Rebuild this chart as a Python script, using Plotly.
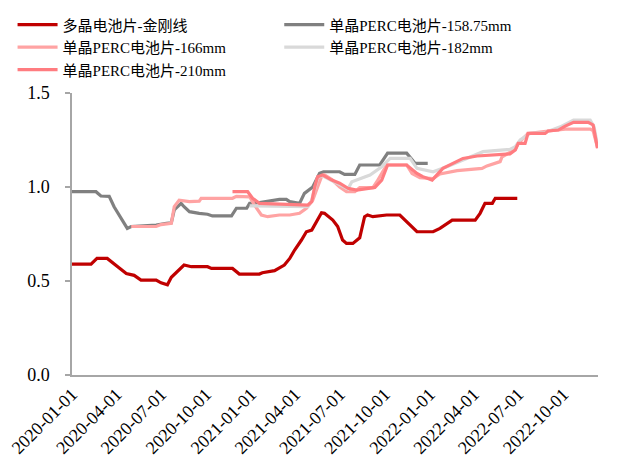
import plotly.graph_objects as go
import pandas as pd

# 多晶电池片-金刚线
poly_dates = ["2020-01-01","2020-02-09","2020-02-21","2020-03-13","2020-04-06","2020-04-21","2020-05-07",
              "2020-05-21","2020-06-21","2020-07-01","2020-07-14","2020-07-22","2020-08-17","2020-09-01",
              "2020-10-04","2020-10-12","2020-11-24","2020-12-08","2021-01-18","2021-01-24","2021-02-18",
              "2021-03-10","2021-03-21","2021-03-31","2021-04-14","2021-04-24","2021-05-05","2021-05-25",
              "2021-05-31","2021-06-17","2021-06-27","2021-07-07","2021-07-15","2021-07-28","2021-08-11",
              "2021-08-21","2021-08-27","2021-09-07","2021-10-05","2021-11-01","2021-12-06","2022-01-08",
              "2022-01-22","2022-02-16","2022-04-04","2022-04-14","2022-04-24","2022-05-09","2022-05-15",
              "2022-06-29"]
poly_vals = [0.59,0.59,0.62,0.62,0.57,0.54,0.53,
             0.505,0.505,0.49,0.48,0.52,0.585,0.576,
             0.576,0.567,0.567,0.537,0.537,0.544,0.555,
             0.585,0.62,0.665,0.718,0.762,0.771,0.863,
             0.86,0.824,0.79,0.718,0.70,0.70,0.73,
             0.842,0.851,0.842,0.851,0.851,0.762,0.762,
             0.78,0.824,0.824,0.86,0.913,0.913,0.94,
             0.94]

# 单晶PERC电池片-158.75mm
m158_dates = ["2020-01-01","2020-02-19","2020-02-29","2020-03-17","2020-03-27","2020-04-06","2020-04-17",
              "2020-04-23","2020-05-01","2020-06-21","2020-07-12","2020-07-22","2020-07-28","2020-08-11",
              "2020-08-17","2020-08-28","2020-09-17","2020-10-04","2020-10-14","2020-11-22","2020-12-02",
              "2020-12-23","2020-12-29","2021-01-12","2021-02-28","2021-03-14","2021-03-21","2021-04-10",
              "2021-04-20","2021-05-07","2021-05-21","2021-05-29","2021-07-01","2021-07-11","2021-08-01",
              "2021-08-11","2021-09-21","2021-10-07","2021-11-15","2021-12-02","2021-12-28"]
m158_vals = [0.975,0.975,0.952,0.95,0.895,0.851,0.807,
             0.78,0.79,0.798,0.807,0.81,0.878,0.913,
             0.895,0.869,0.86,0.855,0.846,0.846,0.887,
             0.887,0.913,0.915,0.934,0.934,0.922,0.913,
             0.966,1.0,1.073,1.081,1.081,1.067,1.067,
             1.117,1.117,1.18,1.18,1.126,1.126]

# 单晶PERC电池片-166mm
m166_dates = ["2020-05-01","2020-06-21","2020-07-01","2020-07-22","2020-07-28","2020-08-07","2020-08-28",
              "2020-09-17","2020-09-21","2020-11-24","2020-12-02","2020-12-29","2021-01-08","2021-01-22",
              "2021-02-04","2021-02-28","2021-03-21","2021-04-10","2021-04-24","2021-05-07","2021-05-17",
              "2021-05-25","2021-05-31","2021-06-15","2021-07-01","2021-07-15","2021-08-01","2021-08-11",
              "2021-09-07","2021-09-15","2021-10-05","2021-11-15","2021-11-26","2021-12-12","2022-01-08",
              "2022-01-22","2022-02-26","2022-04-18","2022-04-28","2022-05-25","2022-05-29","2022-06-25",
              "2022-07-01","2022-07-21","2022-08-31","2022-09-21","2022-10-05","2022-11-25","2022-12-01",
              "2022-12-10"]
m166_vals = [0.79,0.79,0.80,0.807,0.895,0.93,0.922,
             0.925,0.94,0.94,0.95,0.948,0.904,0.851,
             0.842,0.851,0.851,0.86,0.887,0.93,1.0,
             1.055,1.064,1.04,1.0,0.975,0.975,0.997,
             0.997,1.028,1.117,1.117,1.072,1.05,1.045,
             1.069,1.087,1.099,1.112,1.135,1.161,1.20,
             1.232,1.285,1.298,1.303,1.308,1.308,1.30,
             1.21]

# 单晶PERC电池片-182mm
m182_dates = ["2020-12-29","2021-04-27","2021-05-05","2021-05-17","2021-05-27","2021-06-15","2021-07-01",
              "2021-07-18","2021-07-26","2021-09-01","2021-09-25","2021-10-12","2021-11-22","2021-12-06",
              "2022-01-08","2022-02-05","2022-04-20","2022-06-14","2022-06-25","2022-07-05","2022-07-25",
              "2022-08-25","2022-09-25","2022-10-22","2022-11-25","2022-12-03","2022-12-10"]
m182_vals = [0.90,0.895,0.93,1.05,1.06,1.035,1.01,
             0.99,1.028,1.064,1.108,1.152,1.152,1.099,
             1.081,1.108,1.188,1.20,1.214,1.25,1.285,
             1.29,1.32,1.356,1.356,1.32,1.22]

# 单晶PERC电池片-210mm
m210_dates = ["2020-11-24","2020-12-25","2021-01-04","2021-01-18","2021-04-27","2021-05-05","2021-05-11",
              "2021-05-17","2021-05-27","2021-06-15","2021-07-01","2021-07-18","2021-08-05","2021-09-11",
              "2021-09-25","2021-10-07","2021-11-15","2021-12-06","2021-12-18","2022-01-06","2022-01-28",
              "2022-02-26","2022-03-10","2022-04-08","2022-06-14","2022-06-25","2022-07-01","2022-07-15",
              "2022-07-21","2022-08-25","2022-08-31","2022-09-21","2022-10-05","2022-10-22","2022-11-21",
              "2022-12-01","2022-12-10"]
m210_vals = [0.975,0.975,0.94,0.913,0.904,0.922,1.0,
             1.055,1.064,1.037,1.02,0.993,0.984,0.998,
             1.037,1.117,1.117,1.072,1.055,1.037,1.099,
             1.138,1.152,1.165,1.176,1.197,1.232,1.232,
             1.285,1.285,1.298,1.303,1.324,1.344,1.344,
             1.33,1.206]

x_tickvals = ["2020-01-01","2020-04-01","2020-07-01","2020-10-01","2021-01-01","2021-04-01",
              "2021-07-01","2021-10-01","2022-01-01","2022-04-01","2022-07-01","2022-10-01"]
y_tickvals = [0.0, 0.5, 1.0, 1.5]

# (name, dates, values, colour, legend column)
series = [
    ("多晶电池片-金刚线", poly_dates, poly_vals, "#C00000", "legend"),
    ("单晶PERC电池片-158.75mm", m158_dates, m158_vals, "#808080", "legend2"),
    ("单晶PERC电池片-166mm", m166_dates, m166_vals, "#FFA3A3", "legend"),
    ("单晶PERC电池片-182mm", m182_dates, m182_vals, "#D9D9D9", "legend2"),
    ("单晶PERC电池片-210mm", m210_dates, m210_vals, "#FF7C80", "legend"),
]

FONT = "Liberation Serif, Times New Roman, Noto Sans CJK SC, serif"

fig = go.Figure()
for name, d, v, c, lg in series:
    fig.add_trace(go.Scatter(x=pd.to_datetime(d), y=v, name=name, mode="lines",
                             line=dict(color=c, width=3.2), legend=lg))

leg_common = dict(orientation="v", xanchor="left", yanchor="top", y=1.30,
                  itemwidth=40, tracegroupgap=0,
                  font=dict(family=FONT, size=15, color="black"),
                  bgcolor="rgba(0,0,0,0)")

fig.update_layout(
    width=619, height=459,
    margin=dict(l=72, r=21, t=93, b=84, autoexpand=False),
    paper_bgcolor="white", plot_bgcolor="white",
    font=dict(family=FONT, size=16, color="black"),
    showlegend=True,
    legend=dict(x=-0.113, **leg_common),
    legend2=dict(x=0.394, **leg_common),
    xaxis=dict(type="date", range=["2020-01-01", "2022-12-11"],
               tickvals=pd.to_datetime(x_tickvals), ticktext=x_tickvals,
               tickangle=-45, showgrid=False, zeroline=False, automargin=False,
               showline=True, linecolor="#A6A6A6", linewidth=1.5,
               ticks="", tickfont=dict(family=FONT, size=18)),
    yaxis=dict(range=[0, 1.5], tickvals=y_tickvals, tickformat=".1f",
               showgrid=False, zeroline=False, showline=True, automargin=False,
               linecolor="#A6A6A6", linewidth=1.5, ticks="outside",
               ticklen=5, tickcolor="#A6A6A6", tickwidth=1.5,
               ticklabelstandoff=12,
               tickfont=dict(family=FONT, size=18)),
)

fig.write_html("out.html")
